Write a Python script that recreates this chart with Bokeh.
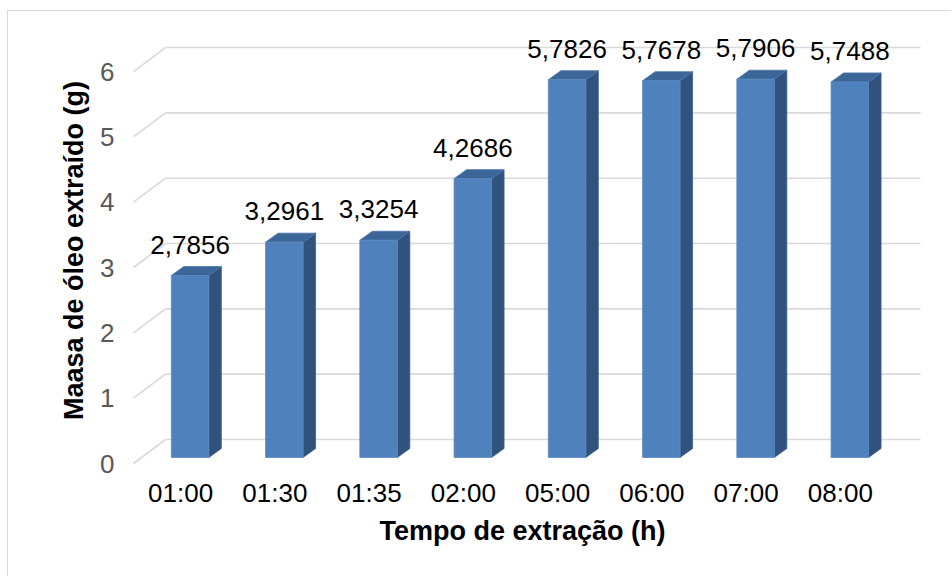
from bokeh.plotting import figure
from bokeh.models import ColumnDataSource, FixedTicker
from bokeh.core.properties import value
from bokeh.embed import file_html
from bokeh.resources import INLINE

# ---- data ----
categories = ["01:00", "01:30", "01:35", "02:00", "05:00", "06:00", "07:00", "08:00"]
masses = [2.7856, 3.2961, 3.3254, 4.2686, 5.7826, 5.7678, 5.7906, 5.7488]
y_ticks = [0, 1, 2, 3, 4, 5, 6]
x_title = "Tempo de extração (h)"
y_title = "Maasa de óleo extraído (g)"

# ---- geometry (pixels of the page) ----
OX, OY = 8, 11            # figure content origin on the page
W, H = 944, 566
FX0, FY0 = 133, 463       # page position of data (0, 0) on the front plane
XU, YU = 94.25, 65.33     # pixels per category / per gram
FL, FR, FT, FB = 124, 920, 30, 470   # frame edges on the page

x_start = (FL - FX0) / XU
x_end = (FR - FX0) / XU
y_end = (FY0 - FT) / YU
y_start = (FY0 - FB) / YU

# 3D offsets (in data units)
back_dx, back_dy = 32 / XU, 24 / YU
bar_base = 6 / YU
bar_l, bar_w = -9.3 / XU, 37.5 / XU
side_dx, side_dy = 12.5 / XU, 9 / YU
lab_dy = 31 / YU

FRONT = "#4F81BD"
SIDE = "#31527C"
TOP = "#3D6698"
GRID = "#D9D9D9"
FONT = "Liberation Sans"

p = figure(width=W, height=H, output_backend="svg", toolbar_location=None,
           x_range=(x_start, x_end), y_range=(y_start, y_end),
           min_border_left=FL - OX, min_border_right=OX + W - FR,
           min_border_top=FT - OY, min_border_bottom=OY + H - FB,
           tools="")
p.styles = {"margin-left": "7px", "margin-top": "10px",
            "border-left": "1px solid #D9D9D9", "border-top": "1px solid #D9D9D9"}
p.outline_line_color = None
p.xgrid.visible = False
p.ygrid.visible = False
p.background_fill_color = "white"
p.border_fill_color = "white"

# ---- gridlines: diagonal on the floor side + back wall ----
gx0 = [0.0 for _ in y_ticks]
gx1 = [back_dx for _ in y_ticks]
gxe = [x_end + 1 for _ in y_ticks]
gy0 = [float(t) for t in y_ticks]
gy1 = [t + back_dy for t in y_ticks]
p.segment(x0=gx0, y0=gy0, x1=gx1, y1=gy1, line_color=GRID, line_width=1.6)
p.segment(x0=gx1, y0=gy1, x1=gxe, y1=gy1, line_color=GRID, line_width=1.6)

# ---- bars ----
centers = [i + 0.5 for i in range(len(categories))]
lefts = [c + bar_l for c in centers]
rights = [l + bar_w for l in lefts]
tops = [bar_base + m for m in masses]
bottoms = [bar_base for _ in masses]

side_xs, side_ys, top_xs, top_ys = [], [], [], []
for l, r, t, b in zip(lefts, rights, tops, bottoms):
    side_xs.append([r, r + side_dx, r + side_dx, r])
    side_ys.append([b, b + side_dy, t + side_dy, t])
    top_xs.append([l, l + side_dx, r + side_dx, r])
    top_ys.append([t, t + side_dy, t + side_dy, t])

p.patches(xs=side_xs, ys=side_ys, fill_color=SIDE, line_color="#3A5F8C", line_width=0.8)
p.patches(xs=top_xs, ys=top_ys, fill_color=TOP, line_color="#4A76AA", line_width=0.8)
p.quad(left=lefts, right=rights, bottom=bottoms, top=tops,
       fill_color=FRONT, line_color="#5B8AC3", line_width=0.8)

# ---- data labels ----
labels = [f"{m:.4f}".replace(".", ",") for m in masses]
lab_src = ColumnDataSource(dict(x=[l + bar_w / 2 for l in lefts],
                                y=[t + lab_dy for t in tops], text=labels))
p.text(x="x", y="y", text="text", source=lab_src, text_align="center",
       text_baseline="alphabetic", text_font=value(FONT),
       text_font_size="26px", text_color="black")

# ---- axes ----
p.xaxis.ticker = FixedTicker(ticks=centers)
p.xaxis.major_label_overrides = {c: lab for c, lab in zip(centers, categories)}
p.yaxis.ticker = FixedTicker(ticks=y_ticks)
for ax in (p.xaxis, p.yaxis):
    ax.axis_line_color = None
    ax.major_tick_line_color = None
    ax.minor_tick_line_color = None
    ax.major_tick_out = 0
    ax.major_label_text_font = FONT
    ax.major_label_text_font_size = "26px"
    ax.axis_label_text_font = FONT
    ax.axis_label_text_font_size = "27px"
    ax.axis_label_text_font_style = "bold"
    ax.axis_label_text_color = "black"
p.xaxis.major_label_text_color = "black"
p.yaxis.major_label_text_color = "#595959"
p.xaxis.axis_label = x_title
p.yaxis.axis_label = y_title
p.xaxis.major_label_standoff = 7
p.yaxis.major_label_standoff = 10
p.xaxis.axis_label_standoff = 5
p.yaxis.axis_label_standoff = 8

open("out.html", "w").write(file_html(p, INLINE))
